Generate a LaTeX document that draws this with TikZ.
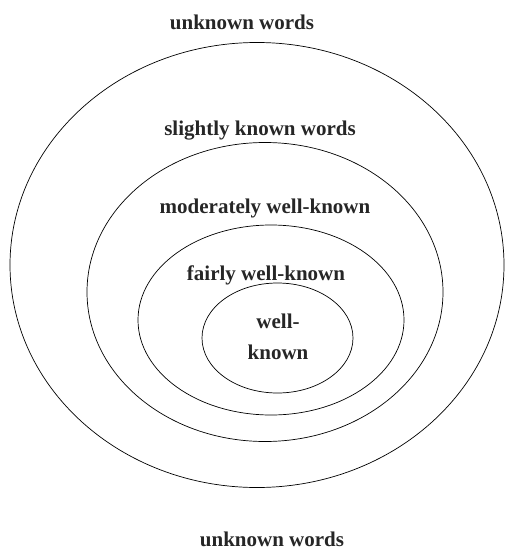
\documentclass[tikz,border=0pt]{standalone}
\usepackage{fontspec}
\setmainfont{Liberation Serif}
\usetikzlibrary{shapes.geometric, positioning}

\begin{document}
\begin{tikzpicture}[
    x=1pt, y=-1pt,
    every node/.style={font=\fontsize{21}{25}\selectfont\bfseries},
    layer/.style={ellipse, draw, line width=0.7pt, inner sep=0pt},
    label/.style={text=black!85, inner sep=0pt}
]
\useasboundingbox (0,0) rectangle (505,552);

% Layers (outer to inner)
\node[layer, minimum width=494pt, minimum height=445pt] (unknown) at (257,265) {};
\node[layer, minimum width=356pt, minimum height=299pt] (slight) at (265,292) {};
\node[layer, minimum width=266pt, minimum height=190pt] (moderate) at (271,320) {};
\node[layer, minimum width=151pt, minimum height=110pt] (fairly) at (277.5,338) {};

% Labels
\node[label] (topword) at (242,22) {unknown words};
\node[label] (bottomword) at (272,539) {unknown words};
\node[label] (slightword) at (260,131) {slightly known words};
\node[label] (moderateword) at (265,208) {moderately well-known};
\node[label] (fairlyword) at (266,275) {fairly well-known};
\node[label] (wellword) at (278,321) {well-};
\node[label] (knownword) at (278,352) {known};

\end{tikzpicture}
\end{document}
